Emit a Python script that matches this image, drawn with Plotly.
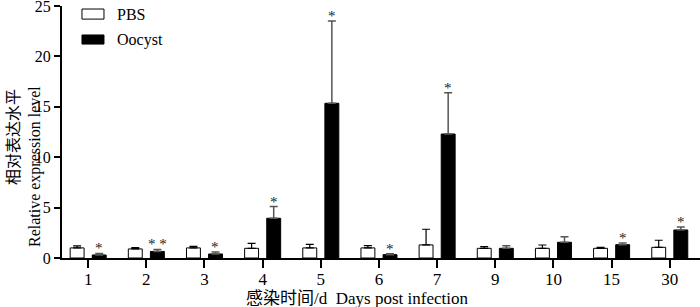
import plotly.graph_objects as go

days = ["1", "2", "3", "4", "5", "6", "7", "9", "10", "15", "30"]
pbs_mean = [1.0, 0.9, 1.0, 0.96, 1.0, 1.0, 1.3, 0.96, 0.96, 0.96, 1.06]
pbs_err = [0.2, 0.12, 0.15, 0.5, 0.36, 0.22, 1.55, 0.16, 0.33, 0.09, 0.7]
oo_mean = [0.3, 0.65, 0.4, 3.94, 15.35, 0.33, 12.3, 0.96, 1.56, 1.32, 2.78]
oo_err = [0.15, 0.2, 0.2, 1.16, 8.15, 0.08, 4.1, 0.26, 0.54, 0.17, 0.29]
stars = ["*", "* *", "*", "*", "*", "*", "*", "", "", "*", "*"]
series_names = ["PBS", "Oocyst"]
y_ticks = [0, 5, 10, 15, 20, 25]

SERIF = "Liberation Serif, Times New Roman, serif"
CJK = "Liberation Serif, Noto Sans CJK SC, serif"

fig = go.Figure()
fig.add_trace(go.Bar(
    x=days, y=pbs_mean, name=series_names[0], showlegend=False,
    marker=dict(color="white", line=dict(color="black", width=1)),
    error_y=dict(type="data", array=pbs_err, arrayminus=[0] * len(days),
                 symmetric=False, color="black", thickness=1.2, width=4),
))
fig.add_trace(go.Bar(
    x=days, y=oo_mean, name=series_names[1], showlegend=False,
    marker=dict(color="black", line=dict(color="black", width=1)),
    error_y=dict(type="data", array=oo_err, arrayminus=[0] * len(days),
                 symmetric=False, color="#555555", thickness=1.5, width=4),
))

for i, (m, e, s) in enumerate(zip(oo_mean, oo_err, stars)):
    if s:
        fig.add_annotation(x=i, y=m + e, text=s, showarrow=False,
                           xshift=11, yshift=-5, yanchor="bottom",
                           font=dict(family=SERIF, size=15, color="#222222"))

# custom legend (wide swatches like the reference)
legend_rows = [(series_names[0], "white", 0.948, 0.988, 0.968),
               (series_names[1], "black", 0.849, 0.885, 0.865)]
for name, fill, y0, y1, yc in legend_rows:
    fig.add_shape(type="rect", xref="paper", yref="paper",
                  x0=0.0313, x1=0.0658, y0=y0, y1=y1,
                  fillcolor=fill, line=dict(color="black", width=1))
    fig.add_annotation(xref="paper", yref="paper", x=0.0831, y=yc, text=name,
                       showarrow=False, xanchor="left", yanchor="middle",
                       font=dict(family=SERIF, size=16, color="black"))

# axis titles
fig.add_annotation(xref="paper", yref="paper", x=0.462, y=-0.162,
                   text="感染时间/d  Days post infection", showarrow=False,
                   xanchor="center", yanchor="middle",
                   font=dict(family=CJK, size=17, color="black"))
fig.add_annotation(xref="paper", yref="paper", x=-0.0768, y=0.480,
                   text="相对表达水平", showarrow=False, textangle=-90,
                   xanchor="center", yanchor="middle",
                   font=dict(family=CJK, size=16, color="black"))
fig.add_annotation(xref="paper", yref="paper", x=-0.0423, y=0.361,
                   text="Relative expression level", showarrow=False, textangle=-90,
                   xanchor="center", yanchor="middle",
                   font=dict(family=SERIF, size=16, color="black"))

fig.update_layout(
    width=700, height=307,
    margin=dict(l=62, r=0, t=6, b=49, autoexpand=False),
    paper_bgcolor="white", plot_bgcolor="white",
    barmode="group", bargap=0.24, bargroupgap=0.37,
    font=dict(family=SERIF, size=16, color="black"),
    showlegend=False,
    xaxis=dict(
        type="category", range=[-0.45, 10.52], automargin=False,
        showline=True, linecolor="black", linewidth=2,
        ticks="outside", ticklen=8, tickwidth=2, tickcolor="black",
        showgrid=False, zeroline=False, ticklabelstandoff=-3,
        tickfont=dict(family=SERIF, size=17, color="black"),
    ),
    yaxis=dict(
        range=[0, 25], tickvals=y_ticks, automargin=False,
        showline=True, linecolor="black", linewidth=2,
        ticks="outside", ticklen=6, tickwidth=2, tickcolor="black",
        showgrid=False, zeroline=False, ticklabeloverflow="allow",
        tickfont=dict(family=SERIF, size=16, color="black"),
    ),
)

fig.write_html("out.html", config={"displayModeBar": False},
               post_script="document.body.style.margin='0';document.body.style.overflow='hidden';")
